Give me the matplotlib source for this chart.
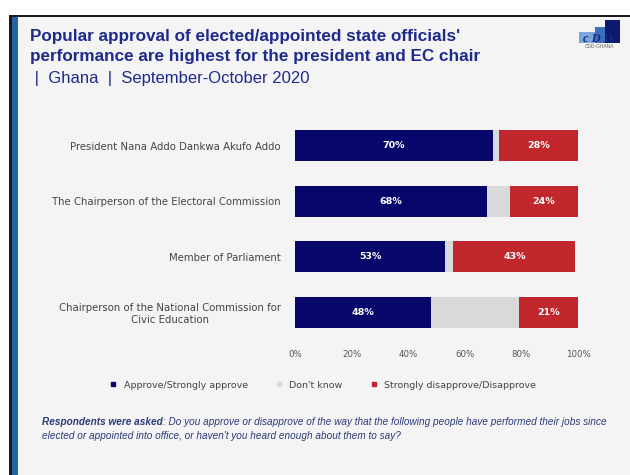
import numpy as np
import matplotlib.pyplot as plt
from matplotlib.patches import Rectangle
from matplotlib.lines import Line2D

# data
officials = ["President Nana Addo Dankwa Akufo Addo",
             "The Chairperson of the Electoral Commission",
             "Member of Parliament",
             "Chairperson of the National Commission for\nCivic Education"]
approve = [70, 68, 53, 48]
dont_know = [2, 8, 3, 31]
disapprove = [28, 24, 43, 21]
series_names = ["Approve/Strongly approve", "Don't know", "Strongly disapprove/Disapprove"]
tick_vals = [0, 20, 40, 60, 80, 100]

navy = "#07076b"
grey = "#d9d9d9"
red = "#c1272d"
bg = "#f4f4f4"
title_col = "#1e2a8c"

fig = plt.figure(figsize=(6.3, 4.75), dpi=100)
fig.patch.set_facecolor("white")

def frect(x0, y0, w, h, col, z=-1):
    # rectangle given in pixel coords from top-left
    fig.patches.append(Rectangle((x0/630, 1 - (y0 + h)/475), w/630, h/475,
                                 transform=fig.transFigure, facecolor=col,
                                 edgecolor="none", zorder=z))

# slide background + frame
frect(9, 16, 630, 475, bg, z=-5)
frect(9, 15, 630, 2, "#1a1a1a")
frect(9, 15, 3, 475, "#1a1a1a")
frect(12, 17, 6, 475, "#2563a8")

# title
fig.text(30/630, 1 - 36/475, "Popular approval of elected/appointed state officials'",
         fontsize=12.3, fontweight="bold", color=title_col, family="Liberation Sans", va="center")
fig.text(30/630, 1 - 57/475, "performance are highest for the president and EC chair",
         fontsize=12.3, fontweight="bold", color=title_col, family="Liberation Sans", va="center")
fig.text(30/630, 1 - 78/475, " |  Ghana  |  September-October 2020",
         fontsize=12, color=title_col, family="Liberation Sans", va="center")

# logo
frect(579, 32, 18, 11, "#7aa6dc")
frect(595, 27, 12, 16, "#3b6fc0")
frect(605, 20, 15, 23, "#0d1a70")
fig.text(598/630, 1 - 39/475, "c D D", fontsize=9, fontweight="bold", style="italic",
         color="#1a2a80", family="Liberation Serif", ha="center", va="center")
fig.text(599/630, 1 - 46/475, "CDD-GHANA", fontsize=3.5, color="#666666",
         family="Liberation Sans", ha="center", va="center")

# chart
ax = fig.add_axes([295/630, 1 - 340/475, 283/630, 222/475])
ax.set_facecolor(bg)
y = np.arange(len(officials))
h = 0.56
left2 = np.array(approve)
left3 = left2 + np.array(dont_know)
ax.barh(y, approve, height=h, color=navy, label=series_names[0])
ax.barh(y, dont_know, left=left2, height=h, color=grey, label=series_names[1])
ax.barh(y, disapprove, left=left3, height=h, color=red, label=series_names[2])

for i in range(len(officials)):
    ax.text(approve[i] / 2, y[i], f"{approve[i]}%", color="white", fontsize=6.8,
            fontweight="bold", ha="center", va="center")
    ax.text(left3[i] + disapprove[i] / 2, y[i], f"{disapprove[i]}%", color="white",
            fontsize=6.8, fontweight="bold", ha="center", va="center")

ax.set_xlim(0, 100)
ax.set_ylim(len(officials) - 0.5, -0.5)
ax.set_yticks(y)
ax.set_yticklabels(officials, fontsize=7.3, color="#444444", multialignment="center")
ax.set_xticks(tick_vals)
ax.set_xticklabels([f"{t}%" for t in tick_vals], fontsize=6.2, color="#555555")
ax.tick_params(length=0)
ax.tick_params(axis="y", pad=10)
ax.tick_params(axis="x", pad=7)
for s in ax.spines.values():
    s.set_visible(False)

# legend
handles = [Line2D([], [], marker="s", linestyle="none", markersize=3.5, color=c)
           for c in [navy, grey, red]]
fig.legend(handles, series_names, loc="center", bbox_to_anchor=(320/630, 1 - 385/475),
           ncol=3, frameon=False, fontsize=6.8, handletextpad=0.1, columnspacing=2.3,
           labelcolor="#444444")

# question note
qcol = "#2b3a7a"
bold_part = fig.text(42/630, 1 - 422/475, "Respondents were asked", fontsize=7.2,
                     fontweight="bold", style="italic", color=qcol,
                     family="Liberation Sans", va="center")
fig.canvas.draw()
bb = bold_part.get_window_extent().transformed(fig.transFigure.inverted())
fig.text(bb.x1, 1 - 422/475,
         ": Do you approve or disapprove of the way that the following people have performed their jobs since",
         fontsize=7.2, style="italic", color=qcol, family="Liberation Sans", va="center")
fig.text(42/630, 1 - 436/475,
         "elected or appointed into office, or haven't you heard enough about them to say?",
         fontsize=7.2, style="italic", color=qcol, family="Liberation Sans", va="center")

fig.savefig("out.png", dpi=100)
